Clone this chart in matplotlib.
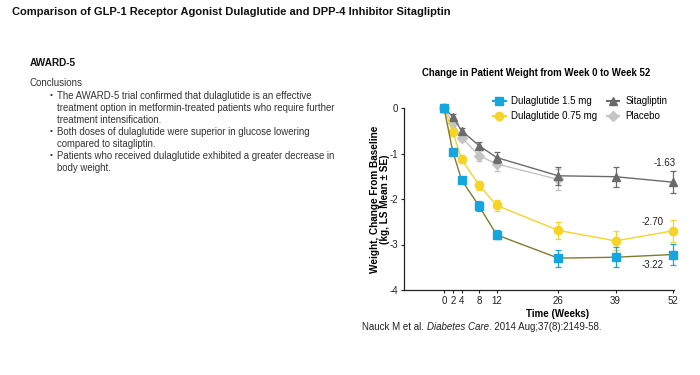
import matplotlib
matplotlib.use("Agg")
import matplotlib.pyplot as plt
from matplotlib.lines import Line2D
from matplotlib import font_manager

plt.rcParams['font.family'] = ['Liberation Sans', 'DejaVu Sans']

# Data
weeks = [0, 2, 4, 8, 12, 26, 39, 52]
dula15 = [0, -0.96, -1.58, -2.16, -2.79, -3.30, -3.28, -3.22]
dula15_se = [0, 0.05, 0.06, 0.11, 0.10, 0.19, 0.22, 0.23]
dula075 = [0, -0.52, -1.13, -1.70, -2.14, -2.69, -2.92, -2.70]
dula075_se = [0, 0.05, 0.07, 0.10, 0.12, 0.19, 0.21, 0.24]
sita = [0, -0.19, -0.50, -0.83, -1.09, -1.49, -1.51, -1.63]
sita_se = [0, 0.05, 0.06, 0.08, 0.12, 0.20, 0.22, 0.24]
placebo_weeks = [0, 2, 4, 8, 12, 26]
placebo = [0, -0.33, -0.65, -1.05, -1.23, -1.57]
placebo_se = [0, 0.05, 0.07, 0.12, 0.15, 0.24]

end_labels = ["-1.63", "-2.70", "-3.22"]
end_pos = [(50.2, -1.20), (47.5, -2.51), (47.5, -3.45)]

bullets = [
    ["The AWARD-5 trial confirmed that dulaglutide is an effective",
     "treatment option in metformin-treated patients who require further",
     "treatment intensification."],
    ["Both doses of dulaglutide were superior in glucose lowering",
     "compared to sitagliptin."],
    ["Patients who received dulaglutide exhibited a greater decrease in",
     "body weight."],
]

# Colours
c_cyan = "#16a6df"
c_olive = "#807c2c"
c_yellow = "#f5d327"
c_dark = "#6b6b6b"
c_light = "#c4c4c4"

names = {f.name for f in font_manager.fontManager.ttflist}
narrow = "Liberation Sans Narrow" if "Liberation Sans Narrow" in names else "Liberation Sans"
title_size = 9.6 if narrow == "Liberation Sans Narrow" else 8.0

fig = plt.figure(figsize=(7, 3.75), dpi=100)
W, H = 700, 375

def px(x, y):
    return x / W, 1 - y / H

# Left text panel
fig.text(*px(12, 12), "Comparison of GLP-1 Receptor Agonist Dulaglutide and DPP-4 Inhibitor Sitagliptin",
         fontsize=title_size, fontweight="bold", va="center", ha="left", color="#111111",
         family=[narrow, "DejaVu Sans"])
fig.text(*px(30, 63), "AWARD-5", fontsize=7.2, fontweight="bold", va="center", color="#111111")
fig.text(*px(30, 83), "Conclusions", fontsize=7.0, va="center", color="#333333")
y = 96
for b in bullets:
    fig.text(*px(50, y), "\u2022", fontsize=6, va="center", color="#333333")
    for line in b:
        fig.text(*px(57, y), line, fontsize=6.95, va="center", color="#333333")
        y += 12

# Chart
ax = fig.add_axes([404 / W, 1 - 290 / H, 270 / W, 182 / H])
ax.set_xlim(-9.1, 52.3)
ax.set_ylim(-4, 0)

kw = dict(markersize=6, elinewidth=0.9, capsize=2.5, capthick=0.9, lw=1.0, clip_on=False)
ax.errorbar(placebo_weeks, placebo, yerr=placebo_se, color=c_light, marker="D",
            markersize=5, ecolor=c_light, lw=1.0, elinewidth=0.9, capsize=2.5, clip_on=False, zorder=2)
ax.errorbar(weeks, sita, yerr=sita_se, color=c_dark, marker="^", ecolor=c_dark, zorder=3, **kw)
ax.errorbar(weeks, dula075, yerr=dula075_se, color=c_yellow, marker="o", ecolor=c_yellow, zorder=4, **kw)
ax.plot(weeks, dula15, color=c_olive, lw=1.0, zorder=5, clip_on=False)
ax.errorbar(weeks, dula15, yerr=dula15_se, color=c_cyan, marker="s", ls="none", ecolor=c_cyan,
            markersize=6, elinewidth=0.9, capsize=2.5, capthick=0.9, zorder=6, clip_on=False)

for lab, (xx, yy) in zip(end_labels, end_pos):
    ax.text(xx, yy, lab, fontsize=7.0, ha="center", va="center", color="#222222")

ax.set_xticks(weeks)
ax.set_yticks([0, -1, -2, -3, -4])
ax.set_yticklabels(["0", "-1", "-2", "-3", "-4"])
ax.tick_params(labelsize=7.0, length=2.5, width=0.8, colors="#222222", pad=2)
for s in ["top", "right"]:
    ax.spines[s].set_visible(False)
for s in ["left", "bottom"]:
    ax.spines[s].set_linewidth(0.9)
    ax.spines[s].set_color("#222222")

ax.set_xlabel("Time (Weeks)", fontsize=7.0, fontweight="bold")
ax.xaxis.set_label_coords((558 - 404) / 270, -0.105)
ax.set_ylabel("Weight, Change From Baseline\n(kg, LS Mean \u00b1 SE)", fontsize=7.2,
              fontweight="bold", linespacing=1.1)
ax.yaxis.set_label_coords(-0.05, 0.5)

ax.set_title("Change in Patient Weight from Week 0 to Week 52", fontsize=6.9,
             fontweight="bold", pad=23, x=0.49)

handles = [
    Line2D([], [], color=c_cyan, marker="s", markersize=6),
    Line2D([], [], color=c_yellow, marker="o", markersize=6),
    Line2D([], [], color=c_dark, marker="^", markersize=6),
    Line2D([], [], color=c_light, marker="D", markersize=5),
]
labels = ["Dulaglutide 1.5 mg", "Dulaglutide 0.75 mg", "Sitagliptin", "Placebo"]
ax.legend(handles, labels, ncol=2, loc="upper left", bbox_to_anchor=(0.315, 1.085),
          frameon=False, fontsize=7.0, handlelength=1.3, handletextpad=0.6,
          columnspacing=0.95, labelspacing=0.5, borderaxespad=0)

# Citation
fig.text(*px(362, 327), "Nauck M et al. ", fontsize=7.0, va="center", color="#222222")
t1 = fig.text(*px(362, 327), "Nauck M et al. ", fontsize=7.0, va="center", alpha=0)
fig.canvas.draw()
bb = t1.get_window_extent()
t2 = fig.text(bb.x1 / W, 1 - 327 / H, "Diabetes Care", fontsize=7.0, va="center",
              style="italic", color="#222222")
fig.canvas.draw()
bb2 = t2.get_window_extent()
fig.text(bb2.x1 / W, 1 - 327 / H, ". 2014 Aug;37(8):2149-58.", fontsize=7.0, va="center", color="#222222")

fig.savefig("out.png", dpi=100, facecolor="white")
